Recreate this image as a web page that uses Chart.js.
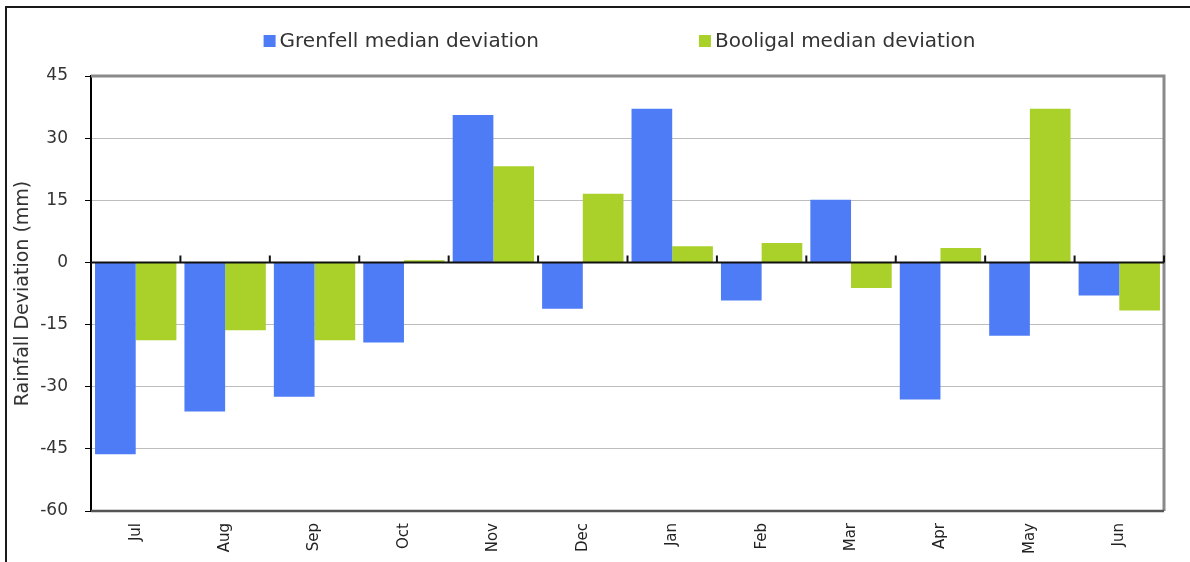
<!DOCTYPE html>
<html>
<head>
<meta charset="utf-8">
<title>Rainfall deviation</title>
<script src="https://cdn.jsdelivr.net/npm/chart.js@4"></script>
<style>
  html, body { margin: 0; background: #fff; overflow: hidden; }
  #wrap { position: relative; width: 1190px; height: 562px; overflow: hidden; }
  #myChart { display: block; }
  #frame { position: absolute; left: 5px; top: 6px; width: 1300px; height: 700px; border-left: 2px solid #1a1a1a; border-top: 2px solid #1a1a1a; pointer-events: none; }
</style>
</head>
<body>
<div id="wrap">
  <canvas id="myChart" width="1190" height="562"></canvas>
  <div id="frame"></div>
</div>
<script>
// dane (mm)
const months = ['Jul', 'Aug', 'Sep', 'Oct', 'Nov', 'Dec', 'Jan', 'Feb', 'Mar', 'Apr', 'May', 'Jun'];
const grenfell = [-46.3, -36.0, -32.4, -19.3, 35.6, -11.2, 37.1, -9.2, 15.1, -33.1, -17.7, -8.0];
const booligal = [-18.8, -16.4, -18.8, 0.5, 23.2, 16.6, 3.9, 4.7, -6.2, 3.5, 37.1, -11.6];
const yTicks = [-60, -45, -30, -15, 0, 15, 30, 45];

Chart.defaults.font.family = '"DejaVu Sans", sans-serif';

// legenda nad wykresem
const topLegend = {
  id: 'topLegend',
  afterDraw(chart) {
    const ctx = chart.ctx;
    const area = chart.chartArea;
    ctx.save();
    ctx.font = '20px "DejaVu Sans"';
    const items = chart.data.datasets.map(ds => ({
      text: ds.label,
      color: ds.backgroundColor,
      w: 16 + ctx.measureText(ds.label).width
    }));
    const gap = 160;
    const total = items.reduce((s, it) => s + it.w, 0) + gap * (items.length - 1);
    let x = (area.left + area.right) / 2 - 8 - total / 2;
    const y = 41;
    items.forEach(it => {
      ctx.fillStyle = it.color;
      ctx.fillRect(x, y - 6, 12, 12);
      ctx.fillStyle = '#333';
      ctx.textBaseline = 'middle';
      ctx.fillText(it.text, x + 16, y + 1);
      x += it.w + gap;
    });
    ctx.restore();
  }
};

// ramka, linia zera i znaczniki kategorii
const axisMarks = {
  id: 'axisMarks',
  afterDatasetsDraw(chart) {
    const ctx = chart.ctx;
    const a = chart.chartArea;
    const xs = chart.scales.x;
    const ys = chart.scales.y;
    const y0 = ys.getPixelForValue(0);
    ctx.save();
    ctx.strokeStyle = '#8a8a8a';
    ctx.lineWidth = 3;
    ctx.beginPath();
    ctx.moveTo(a.left, a.top);
    ctx.lineTo(a.right, a.top);
    ctx.lineTo(a.right, a.bottom);
    ctx.stroke();
    ctx.strokeStyle = '#555';
    ctx.lineWidth = 2.5;
    ctx.beginPath();
    ctx.moveTo(a.left, a.bottom);
    ctx.lineTo(a.right, a.bottom);
    ctx.stroke();

    ctx.strokeStyle = '#111';
    ctx.lineWidth = 2;
    ctx.beginPath();
    ctx.moveTo(a.left, y0);
    ctx.lineTo(a.right, y0);
    const step = (xs.right - xs.left) / months.length;
    for (let i = 1; i <= months.length; i++) {
      const px = xs.left + i * step;
      ctx.moveTo(px, y0);
      ctx.lineTo(px, y0 - 7);
    }
    ctx.stroke();
    ctx.restore();
  }
};

const ctx = document.getElementById('myChart');

new Chart(ctx, {
  type: 'bar',
  data: {
    labels: months,
    datasets: [{
      label: 'Grenfell median deviation',
      data: grenfell,
      backgroundColor: '#4e7cf6',
      barPercentage: 1,
      categoryPercentage: 0.91
    }, {
      label: 'Booligal median deviation',
      data: booligal,
      backgroundColor: '#a9d12a',
      barPercentage: 1,
      categoryPercentage: 0.91
    }]
  },
  options: {
    responsive: false,
    animation: false,
    devicePixelRatio: 1,
    layout: { padding: { top: 76, right: 26, left: 0, bottom: 0 } },
    plugins: {
      legend: { display: false },
      tooltip: { enabled: false }
    },
    scales: {
      x: {
        grid: { display: false },
        border: { display: false },
        ticks: {
          minRotation: 90,
          maxRotation: 90,
          padding: 4,
          color: '#222',
          font: { size: 15 }
        },
        afterFit(scale) { scale.height = 51; }
      },
      y: {
        min: -60,
        max: 45,
        afterBuildTicks(scale) { scale.ticks = yTicks.map(v => ({ value: v })); },
        afterFit(scale) { scale.width = 91; },
        border: { color: '#000', width: 2 },
        grid: { color: '#bdbdbd', lineWidth: 1, tickColor: '#000', tickLength: 6 },
        ticks: { padding: 17, color: '#333', font: { size: 17 } },
        title: {
          display: true,
          text: 'Rainfall Deviation (mm)',
          color: '#333',
          font: { size: 19 },
          padding: { top: 12, bottom: 0 }
        }
      }
    }
  },
  plugins: [topLegend, axisMarks]
});
</script>
</body>
</html>
